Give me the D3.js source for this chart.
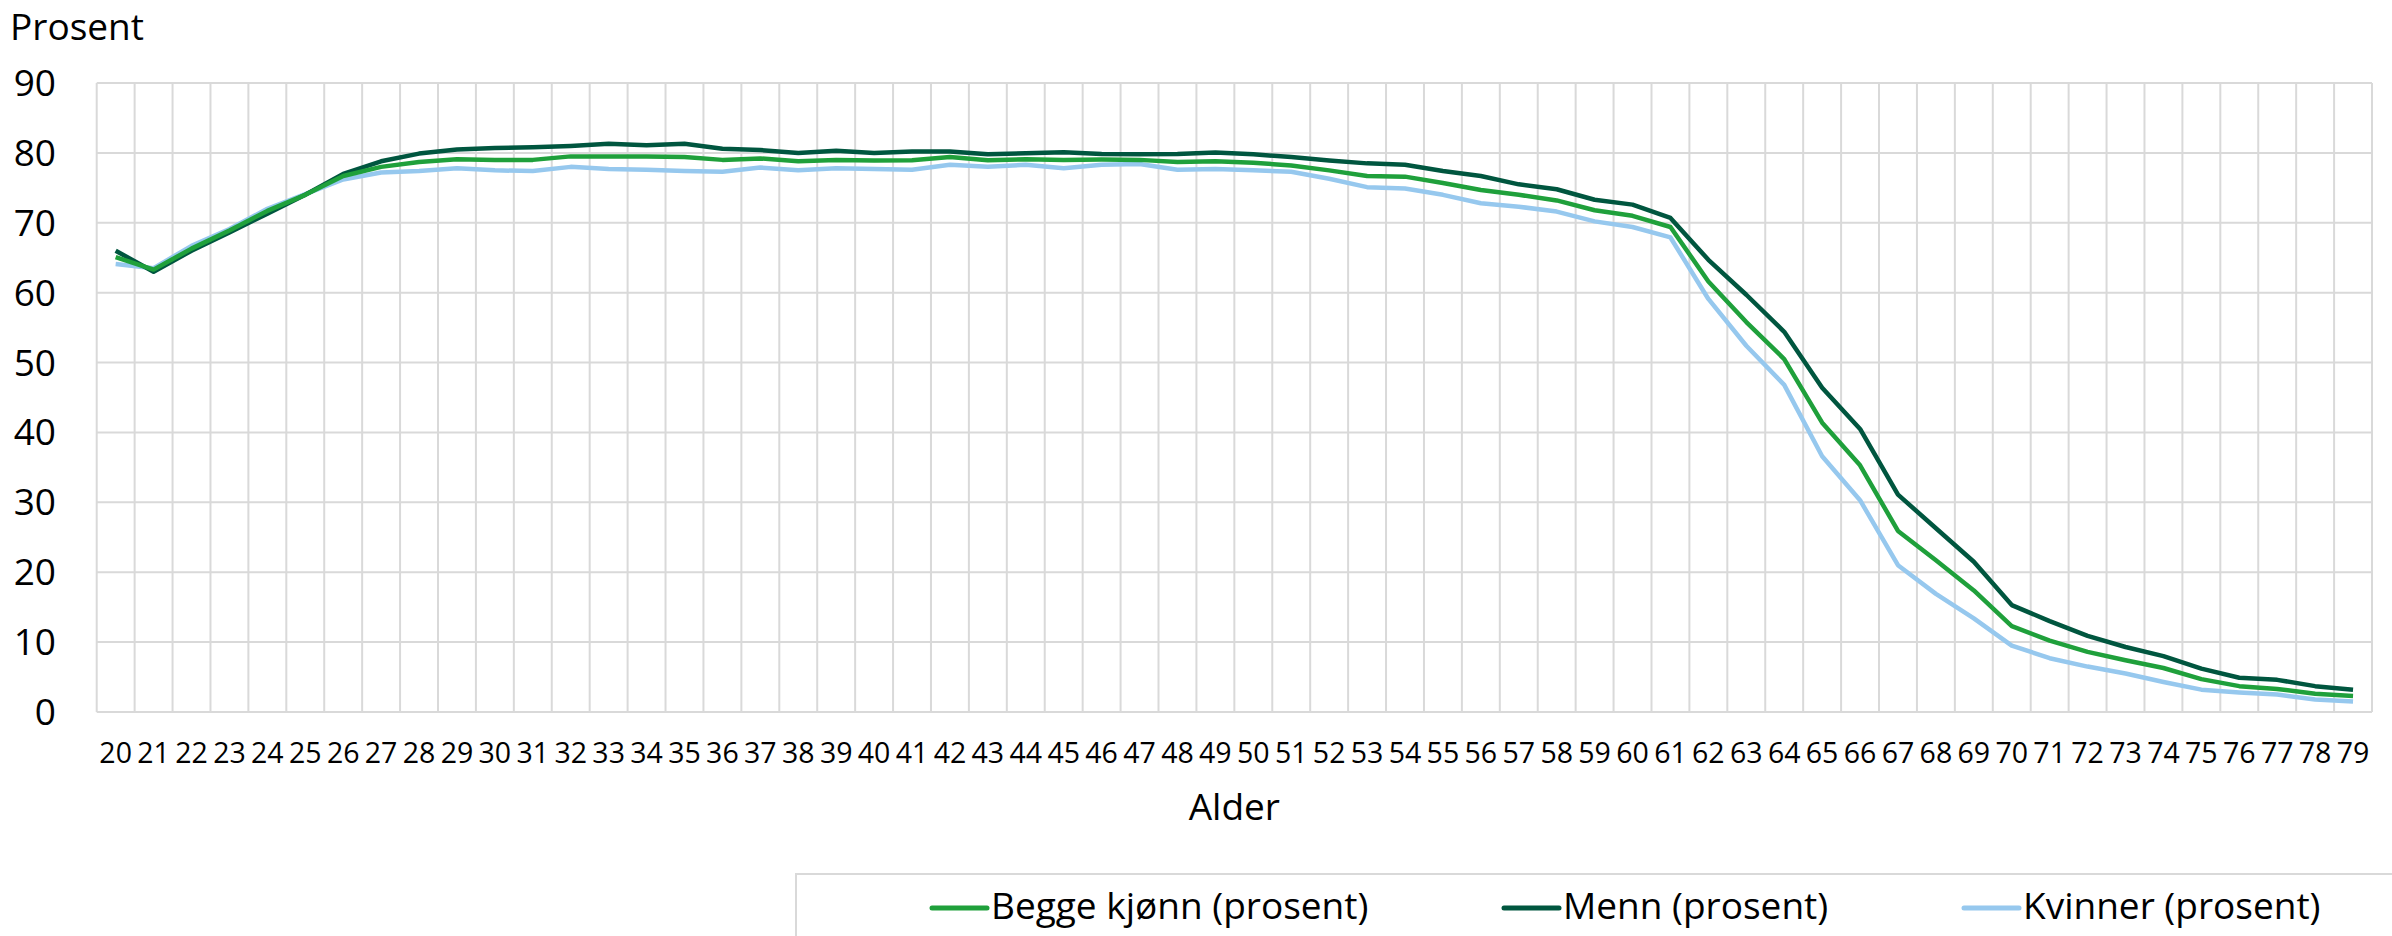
<!DOCTYPE html>
<html>
<head>
<meta charset="utf-8">
<title>Sysselsatte etter alder</title>
<script src="https://d3js.org/d3.v7.min.js"></script>
<style>
body { margin: 0; background: #fff; font-family: "Open Sans", "Noto Sans", sans-serif; }
text { fill: #000; }
</style>
</head>
<body>
<svg id="chart"></svg>
<script>
// ages on the x axis
var ages = d3.range(20, 80);

// series values (prosent)
var begge = [65.1, 63.3, 66.3, 68.9, 71.7, 74.0, 76.7, 78.0, 78.7, 79.1,
             79.0, 79.0, 79.5, 79.5, 79.5, 79.4, 79.0, 79.2, 78.8, 79.0,
             78.9, 78.95, 79.4, 78.95, 79.1, 79.0, 79.05, 79.0, 78.7, 78.8,
             78.6, 78.2, 77.5, 76.7, 76.6, 75.7, 74.7, 74.0, 73.2, 71.8,
             71.0, 69.4, 61.6, 55.8, 50.5, 41.4, 35.3, 25.9, 21.7, 17.4,
             12.3, 10.2, 8.6, 7.4, 6.3, 4.7, 3.7, 3.3, 2.6, 2.3];
var menn = [66.0, 63.0, 66.0, 68.6, 71.3, 74.0, 77.0, 78.8, 79.9, 80.5,
            80.7, 80.8, 81.0, 81.3, 81.1, 81.3, 80.6, 80.4, 80.0, 80.3,
            80.0, 80.2, 80.2, 79.8, 79.95, 80.1, 79.85, 79.8, 79.85, 80.05,
            79.8, 79.4, 78.9, 78.5, 78.3, 77.4, 76.7, 75.5, 74.8, 73.3,
            72.6, 70.7, 64.7, 59.7, 54.4, 46.4, 40.5, 31.1, 26.3, 21.5,
            15.3, 13.0, 10.9, 9.3, 8.0, 6.2, 4.9, 4.6, 3.7, 3.2];
var kvinner = [64.1, 63.5, 66.7, 69.1, 72.0, 74.1, 76.2, 77.2, 77.4, 77.8,
               77.5, 77.4, 78.0, 77.7, 77.6, 77.4, 77.3, 77.9, 77.5, 77.8,
               77.7, 77.6, 78.3, 78.0, 78.3, 77.8, 78.3, 78.4, 77.6, 77.7,
               77.5, 77.3, 76.3, 75.1, 74.9, 74.0, 72.8, 72.3, 71.6, 70.2,
               69.4, 67.9, 59.1, 52.4, 46.8, 36.6, 30.3, 21.0, 16.9, 13.4,
               9.5, 7.7, 6.5, 5.5, 4.3, 3.2, 2.8, 2.5, 1.8, 1.5];

var yTicks = [0, 10, 20, 30, 40, 50, 60, 70, 80, 90];

var seriesNames = ["Begge kjønn (prosent)", "Menn (prosent)", "Kvinner (prosent)"];
var seriesColors = ["#1fa03b", "#00563f", "#96c8ee"];

var series = [
  { name: seriesNames[0], color: seriesColors[0], values: begge },
  { name: seriesNames[1], color: seriesColors[1], values: menn },
  { name: seriesNames[2], color: seriesColors[2], values: kvinner }
];

var width = 2392, height = 936;
var margin = { top: 83, right: 20, bottom: 224, left: 96.7 };
var gridColor = "#d9d9d9";
var bigFont = "37px";

var svg = d3.select("#chart").attr("width", width).attr("height", height);

var x = d3.scaleBand()
    .domain(ages)
    .range([margin.left, width - margin.right])
    .padding(0);

var y = d3.scaleLinear()
    .domain([0, 90])
    .range([height - margin.bottom, margin.top]);

// horizontal grid
svg.append("g").selectAll("line")
    .data(yTicks)
    .enter().append("line")
    .attr("x1", x.range()[0]).attr("x2", x.range()[1])
    .attr("y1", function (d) { return y(d); })
    .attr("y2", function (d) { return y(d); })
    .attr("stroke", gridColor).attr("stroke-width", 2);

// vertical grid at the category boundaries
var bounds = ages.map(function (a) { return x(a); }).concat([x.range()[1]]);
svg.append("g").selectAll("line")
    .data(bounds)
    .enter().append("line")
    .attr("x1", function (d) { return d; }).attr("x2", function (d) { return d; })
    .attr("y1", y(90)).attr("y2", y(0))
    .attr("stroke", gridColor).attr("stroke-width", 2);

// y labels
svg.append("g").selectAll("text")
    .data(yTicks)
    .enter().append("text")
    .attr("x", 56)
    .attr("y", function (d) { return y(d); })
    .attr("dy", "0.35em")
    .attr("text-anchor", "end")
    .style("font-size", bigFont)
    .text(function (d) { return d; });

// x labels
svg.append("g").selectAll("text")
    .data(ages)
    .enter().append("text")
    .attr("x", function (d) { return x(d) + x.bandwidth() / 2; })
    .attr("y", 763)
    .attr("text-anchor", "middle")
    .style("font-size", "28.5px")
    .text(function (d) { return d; });

svg.append("text").attr("x", 10).attr("y", 40)
    .style("font-size", bigFont).text("Prosent");

svg.append("text")
    .attr("x", (x.range()[0] + x.range()[1]) / 2).attr("y", 820)
    .attr("text-anchor", "middle")
    .style("font-size", bigFont).text("Alder");

// lines
var line = d3.line()
    .x(function (d, i) { return x(ages[i]) + x.bandwidth() / 2; })
    .y(function (d) { return y(d); });

svg.append("g").selectAll("path")
    .data(series.slice().reverse())
    .enter().append("path")
    .attr("d", function (s) { return line(s.values); })
    .attr("fill", "none")
    .attr("stroke", function (s) { return s.color; })
    .attr("stroke-width", 4.5)
    .attr("stroke-linejoin", "round");

// legend
svg.append("rect")
    .attr("x", 796).attr("y", 874)
    .attr("width", 1700).attr("height", 200)
    .attr("fill", "none").attr("stroke", gridColor).attr("stroke-width", 2);

var legendX = [932, 1504, 1964];
var leg = svg.append("g").selectAll("g")
    .data(series)
    .enter().append("g")
    .attr("transform", function (s, i) { return "translate(" + legendX[i] + ",908)"; });
leg.append("line")
    .attr("x1", 0).attr("x2", 55)
    .attr("stroke", function (s) { return s.color; })
    .attr("stroke-width", 5).attr("stroke-linecap", "round");
leg.append("text")
    .attr("x", 59).attr("y", 11)
    .style("font-size", bigFont)
    .text(function (s) { return s.name; });
</script>
</body>
</html>
